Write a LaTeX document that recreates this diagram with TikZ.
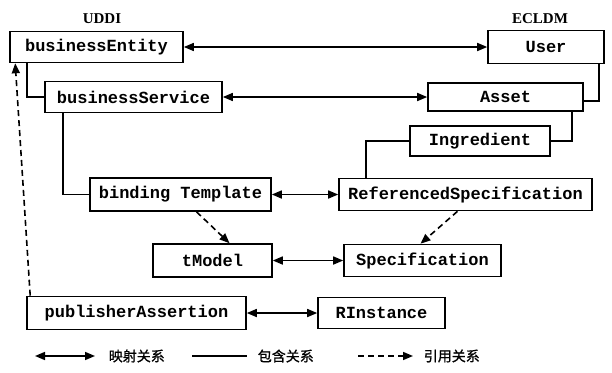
\documentclass[tikz,border=0pt]{standalone}
\usepackage{fontspec}
\usepackage{tikz}
\usetikzlibrary{arrows.meta}
\setmainfont{Liberation Serif}
\setmonofont{Liberation Mono}
\newfontfamily\cjk[FakeBold=1]{Noto Sans CJK SC}

\begin{document}
\begin{tikzpicture}[x=1pt, y=-1pt, line width=1.6pt,
  box/.style={draw, rectangle, inner sep=0pt, minimum height=31pt,
    font=\fontsize{17}{17}\selectfont\ttfamily\bfseries},
  map/.style={{Triangle[length=10pt,width=8pt]}-{Triangle[length=10pt,width=8pt]}},
  refline/.style={dashed, dash pattern=on 6pt off 4pt, -{Triangle[length=10pt,width=8pt]}},
  legend/.style={right, inner sep=0pt, font=\fontsize{14}{14}\selectfont\cjk},
  side/.style={inner sep=0pt, font=\fontsize{15}{15}\selectfont\bfseries}]
\useasboundingbox (0,0) rectangle (612,372);
\node[side] (uddi) at (102,19) {UDDI};
\node[side] (ecldm) at (540,19) {ECLDM};
\node[box, minimum width=173pt] (be) at (96.5,47) {businessEntity};
\node[box, minimum width=116pt, minimum height=33pt] (user) at (546,47) {User};
\node[box, minimum width=177pt] (bs) at (133.5,97) {businessService};
\node[box, minimum width=155pt, minimum height=28pt] (asset) at (505.5,97) {Asset};
\node[box, minimum width=140pt, minimum height=30pt] (ingr) at (480,141) {Ingredient};
\node[box, minimum width=181pt, minimum height=33pt] (bt) at (180.5,194.5) {binding Template};
\node[box, minimum width=253pt, minimum height=32pt] (rs) at (465.5,194.5) {ReferencedSpecification};
\node[box, minimum width=119pt, minimum height=33pt] (tm) at (212.5,260.5) {tModel};
\node[box, minimum width=157pt, minimum height=32pt] (spec) at (422.5,260.5) {Specification};
\node[box, minimum width=219pt, minimum height=33pt] (pa) at (136.5,313) {publisherAssertion};
\node[box, minimum width=127pt] (ri) at (381.5,313) {RInstance};
% mappings
\draw[map] (be) -- (user);
\draw[map] (bs) -- (asset);
\draw[map] (bt) -- (rs);
\draw[map] (tm) -- (spec);
\draw[map] (pa) -- (ri);
% containment
\draw ([xshift=18pt]be.south west) |- (bs.west);
\draw ([xshift=19pt]bs.south west) |- (bt.west);
\draw ([xshift=-6pt]user.south east) |- ([yshift=-4pt]asset.east);
\draw ([xshift=-12pt]asset.south east) |- (ingr.east);
\draw (ingr.west) -| ([xshift=28pt]rs.north west);
% references
\draw[refline] ([xshift=16pt]bt.south) -- ([xshift=17pt]tm.north);
\draw[refline] ([xshift=-8pt]rs.south) -- ([xshift=-2pt]spec.north);
\draw[refline] ([xshift=4pt]pa.north west) -- ([xshift=6pt]be.south west);
% legend
\coordinate (m1) at (35,356);
\coordinate (m2) at (95,356);
\draw[map] (m1) -- (m2);
\node[legend] (lmap) at (108,356) {映射关系};
\coordinate (c1) at (192,356);
\coordinate (c2) at (247,356);
\draw (c1) -- (c2);
\node[legend] (lcon) at (257,356) {包含关系};
\coordinate (r1) at (358,356);
\coordinate (r2) at (413,356);
\draw[refline] (r1) -- (r2);
\node[legend] (lref) at (423,356) {引用关系};
\end{tikzpicture}
\end{document}
